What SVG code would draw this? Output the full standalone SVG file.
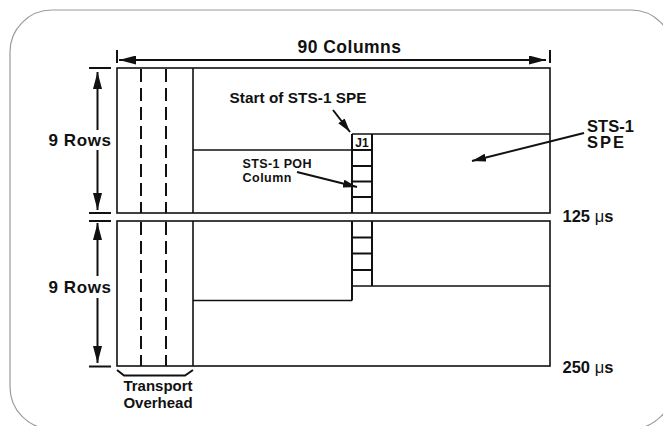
<svg xmlns="http://www.w3.org/2000/svg" width="663" height="426" viewBox="0 0 663 426">
<defs>
<style>
.ln{stroke:#111;stroke-width:1.6;fill:none}
.th{stroke:#111;stroke-width:2;fill:none}
.ds{stroke:#111;stroke-width:2;stroke-dasharray:13 6;fill:none}
.t{font-family:"Liberation Sans",Arial,sans-serif;font-weight:bold;fill:#111}
.mu{font-weight:normal}
</style>
<marker id="dim" viewBox="0 0 17 9" refX="17" refY="4.5" markerWidth="17" markerHeight="9" markerUnits="userSpaceOnUse" orient="auto-start-reverse"><path d="M0,0 L17,4.5 L0,9 Z" fill="#111"/></marker>
<marker id="ptr" viewBox="0 0 14 8" refX="14" refY="4" markerWidth="14" markerHeight="8" markerUnits="userSpaceOnUse" orient="auto"><path d="M0,0 L14,4 L0,8 Z" fill="#111"/></marker>
</defs>
<rect x="0" y="0" width="663" height="426" fill="#fff"/>
<rect id="panel" x="10" y="10" width="663" height="419" rx="42" ry="42" fill="#fff" stroke="#9a9a9a" stroke-width="1.2"/>

<g id="frame-upper">
<rect class="ln" x="117" y="68" width="433" height="145"/>
<line class="ds" x1="141" y1="69" x2="141" y2="213"/>
<line class="ds" x1="166" y1="69" x2="166" y2="213"/>
<line class="ln" x1="193" y1="68" x2="193" y2="213"/>
<line class="ln" x1="193" y1="150" x2="352" y2="150"/>
<line class="ln" x1="352" y1="134" x2="550" y2="134"/>
<line class="th" x1="352" y1="134" x2="352" y2="213"/>
<line class="th" x1="372" y1="134" x2="372" y2="213"/>
<line class="th" x1="352" y1="150" x2="372" y2="150"/>
<line class="th" x1="352" y1="166" x2="372" y2="166"/>
<line class="th" x1="352" y1="181.5" x2="372" y2="181.5"/>
<line class="th" x1="352" y1="197" x2="372" y2="197"/>
<text class="t" x="362" y="147" font-size="12" text-anchor="middle">J1</text>
</g>

<g id="frame-lower">
<rect class="ln" x="117" y="221" width="433" height="145"/>
<line class="ds" x1="141" y1="222" x2="141" y2="366"/>
<line class="ds" x1="166" y1="222" x2="166" y2="366"/>
<line class="ln" x1="193" y1="221" x2="193" y2="366"/>
<line class="ln" x1="193" y1="300.5" x2="352" y2="300.5"/>
<line class="th" x1="352" y1="221" x2="352" y2="300.5"/>
<line class="th" x1="372" y1="221" x2="372" y2="286"/>
<line class="th" x1="352" y1="237.5" x2="372" y2="237.5"/>
<line class="th" x1="352" y1="253.5" x2="372" y2="253.5"/>
<line class="th" x1="352" y1="270" x2="372" y2="270"/>
<line class="ln" x1="352" y1="286" x2="550" y2="286"/>
</g>

<g id="connectors">
<line class="th" x1="117" y1="50" x2="117" y2="63"/>
<line class="th" x1="550" y1="50" x2="550" y2="63"/>
<line class="th" x1="119" y1="60" x2="546" y2="60" marker-start="url(#dim)" marker-end="url(#dim)"/>
<line class="th" x1="89" y1="68" x2="111" y2="68"/>
<line class="th" x1="89" y1="213" x2="111" y2="213"/>
<line class="th" x1="89" y1="221" x2="111" y2="221"/>
<line class="th" x1="89" y1="366.5" x2="111" y2="366.5"/>
<line class="th" x1="97.5" y1="72" x2="97.5" y2="130" marker-start="url(#dim)"/>
<line class="th" x1="97.5" y1="150" x2="97.5" y2="210" marker-end="url(#dim)"/>
<line class="th" x1="97.5" y1="223" x2="97.5" y2="276" marker-start="url(#dim)"/>
<line class="th" x1="97.5" y1="298" x2="97.5" y2="363" marker-end="url(#dim)"/>
<line class="th" x1="333" y1="110" x2="350" y2="132" marker-end="url(#ptr)"/>
<line class="th" x1="297" y1="172" x2="357" y2="187" marker-end="url(#ptr)"/>
<line class="th" x1="584" y1="133" x2="472" y2="161" marker-end="url(#ptr)"/>
<polyline class="th" points="117,370 124,375.5 185,375.5 193,370"/>
</g>

<g id="labels">
<text class="t" x="297.5" y="53" font-size="17.5" textLength="103.5" lengthAdjust="spacing">90 Columns</text>
<text class="t" x="48.5" y="146" font-size="17" textLength="62.5" lengthAdjust="spacing">9 Rows</text>
<text class="t" x="48.5" y="293" font-size="17" textLength="62.5" lengthAdjust="spacing">9 Rows</text>
<text class="t" x="229.5" y="103" font-size="15.3" textLength="137" lengthAdjust="spacing">Start of STS-1 SPE</text>
<text class="t" x="242.5" y="168" font-size="12.5" textLength="69" lengthAdjust="spacing">STS-1 POH</text>
<text class="t" x="242.5" y="182" font-size="12.5" textLength="49" lengthAdjust="spacing">Column</text>
<text class="t" x="587" y="131.5" font-size="16.5" textLength="47" lengthAdjust="spacing">STS-1</text>
<text class="t" x="587" y="148" font-size="16.5" textLength="37" lengthAdjust="spacing">SPE</text>
<text class="t" x="562.5" y="221.5" font-size="16.5">125 <tspan class="mu">μ</tspan>s</text>
<text class="t" x="562.5" y="373" font-size="16.5">250 <tspan class="mu">μ</tspan>s</text>
<text class="t" x="158" y="391" font-size="15" text-anchor="middle">Transport</text>
<text class="t" x="158" y="407.5" font-size="15" text-anchor="middle">Overhead</text>
</g>
</svg>
